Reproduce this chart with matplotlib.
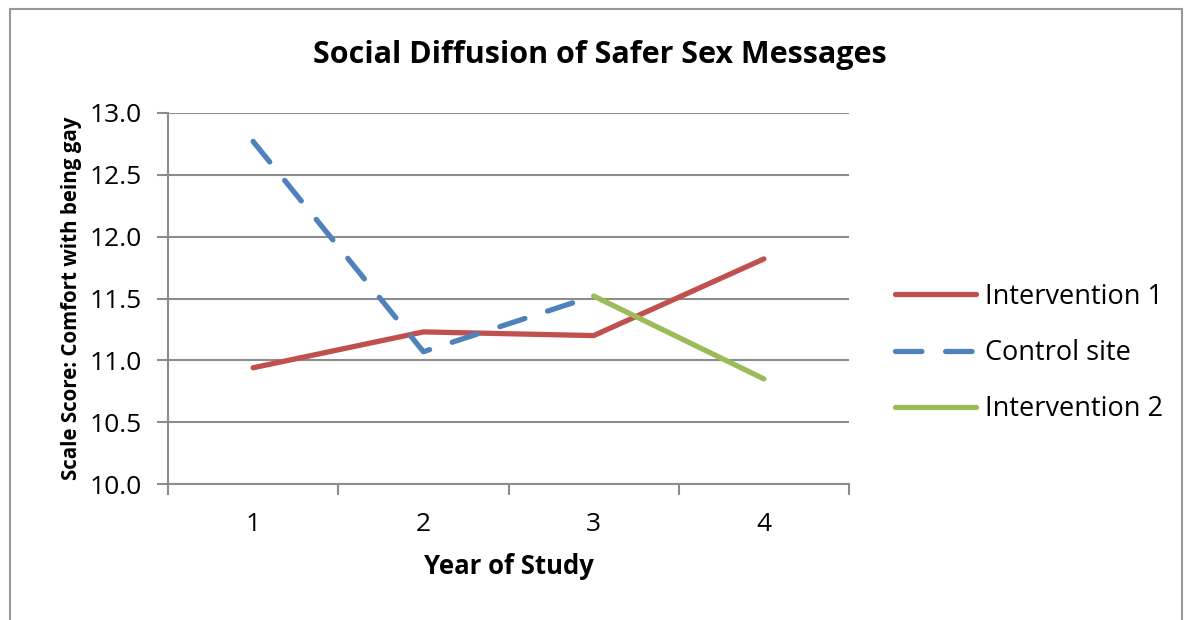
import matplotlib
matplotlib.use("Agg")
import matplotlib.pyplot as plt
from matplotlib.patches import Rectangle

years = [1, 2, 3, 4]
year_labels = ["1", "2", "3", "4"]
intervention1 = [10.94, 11.23, 11.20, 11.82]
control_years = [1, 2, 3]
control = [12.77, 11.07, 11.52]
intervention2_years = [3, 4]
intervention2 = [11.52, 10.85]
yticks = [10.0, 10.5, 11.0, 11.5, 12.0, 12.5, 13.0]

plt.rcParams['font.family'] = ['Open Sans', 'DejaVu Sans']

fig = plt.figure(figsize=(11.91, 6.2), dpi=100)
fig.patch.set_facecolor('white')
fig.patches.append(Rectangle((10/1191, -0.01), (1182-10)/1191, 1 - 9/620 + 0.01,
                             transform=fig.transFigure, fill=False,
                             edgecolor='#9a9a9a', linewidth=1.5))

ax = fig.add_axes([168/1191, 1 - 484/620, (849-168)/1191, (484-113)/620])
grid_c = '#8c8c8c'
for y in yticks:
    ax.axhline(y, color=grid_c, linewidth=1.5, zorder=1)

ax.plot(years, intervention1, color='#C0504D', linewidth=3.8,
        solid_capstyle='round', label='Intervention 1', zorder=3)
ax.plot(control_years, control, color='#4F81BD', linewidth=3.8,
        dashes=(5, 4.5), dash_capstyle='round', label='Control site', zorder=3)
ax.plot(intervention2_years, intervention2, color='#9BBB59', linewidth=3.8,
        solid_capstyle='round', label='Intervention 2', zorder=3)

ax.set_xlim(0.5, 4.5)
ax.set_ylim(10.0, 13.0)
ax.set_yticks(yticks)
ax.set_yticklabels([f"{v:.1f}" for v in yticks], fontsize=19)
ax.set_xticks(years)
ax.set_xticklabels(year_labels, fontsize=19)
ax.set_xticks([0.5, 1.5, 2.5, 3.5, 4.5], minor=True)
ax.tick_params(axis='x', which='major', length=0, pad=20)
ax.tick_params(axis='x', which='minor', length=8, width=1.5, color=grid_c)
ax.tick_params(axis='y', length=8, width=1.5, color=grid_c, pad=11)

for s in ['top', 'right']:
    ax.spines[s].set_visible(False)
ax.spines['left'].set_color(grid_c)
ax.spines['left'].set_linewidth(1.5)
ax.spines['bottom'].set_color(grid_c)
ax.spines['bottom'].set_linewidth(1.5)

ax.set_xlabel('Year of Study', fontsize=18.5, fontweight='bold', labelpad=12)
ax.set_ylabel('Scale Score: Comfort with being gay', fontsize=14.8,
              fontweight='bold', labelpad=5)
fig.text(600/1191, 1 - 55/620, 'Social Diffusion of Safer Sex Messages',
         fontsize=22, fontweight='bold', ha='center', va='center')

leg = ax.legend(loc='center left', bbox_to_anchor=(1.032, 0.353), frameon=False,
                fontsize=19.5, handlelength=3.0, handletextpad=0.3,
                labelspacing=1.04)

fig.savefig('out.png', dpi=100, facecolor='white')
